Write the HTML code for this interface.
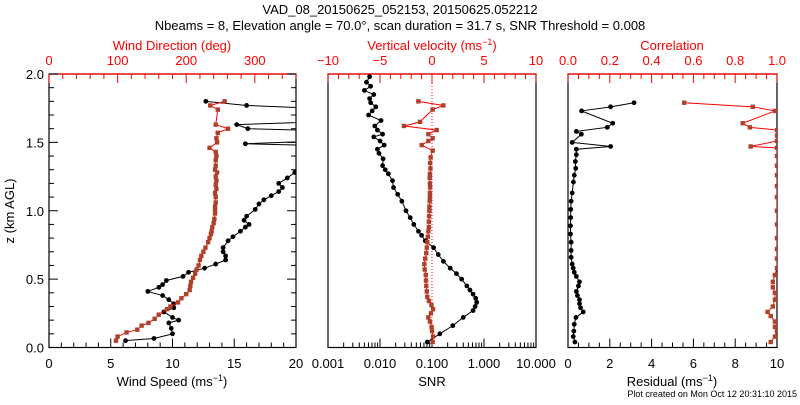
<!DOCTYPE html>
<html><head><meta charset="utf-8"><style>
body{margin:0;background:#fff;width:800px;height:400px;overflow:hidden}
svg text{font-family:"Liberation Sans",sans-serif}
</style></head><body>
<svg id="c" width="800" height="400" xmlns="http://www.w3.org/2000/svg">
<defs>
<clipPath id="cp1"><rect x="49" y="74" width="247" height="274"/></clipPath>
<clipPath id="cp2"><rect x="328" y="74" width="208" height="274"/></clipPath>
<clipPath id="cp3"><rect x="568" y="74" width="209" height="274"/></clipPath>
</defs>
<text x="400" y="14" font-size="13" text-anchor="middle">VAD_08_20150625_052153, 20150625.052212</text>
<text x="400" y="30" font-size="13" text-anchor="middle">Nbeams = 8, Elevation angle = 70.0°, scan duration = 31.7 s, SNR Threshold = 0.008</text>
<text x="172" y="50" font-size="13" fill="#f00" text-anchor="middle">Wind Direction (deg)</text>
<text x="432" y="50" font-size="13" fill="#f00" text-anchor="middle">Vertical velocity (ms<tspan dy="-5" font-size="9">−1</tspan><tspan dy="5">)</tspan></text>
<text x="672" y="50" font-size="13" fill="#f00" text-anchor="middle">Correlation</text>
<text x="172" y="386" font-size="13" text-anchor="middle">Wind Speed (ms<tspan dy="-5" font-size="9">−1</tspan><tspan dy="5">)</tspan></text>
<text x="432" y="386" font-size="13" text-anchor="middle">SNR</text>
<text x="672" y="386" font-size="13" text-anchor="middle">Residual (ms<tspan dy="-5" font-size="9">−1</tspan><tspan dy="5">)</tspan></text>
<text x="14" y="211" font-size="13" text-anchor="middle" transform="rotate(-90 14 211)">z (km AGL)</text>
<text x="797" y="397" font-size="9" text-anchor="end">Plot created on Mon Oct 12 20:31:10 2015</text>
</svg>
<script>
// Heights (km) and values for each series
const zSpeed=[0.05,0.066,0.10,0.14,0.18,0.20,0.22,0.26,0.29,0.32,0.35,0.38,0.41,0.44,0.46,0.49,0.52,0.55,0.58,0.61,0.64,0.67,0.70,0.73,0.78,0.81,0.85,0.88,0.90,0.93,0.96,1.01,1.05,1.08,1.11,1.14,1.17,1.20,1.24,1.28,1.32,1.40,1.47,1.49,1.52,1.58,1.60,1.63,1.66,1.74,1.77,1.80];
const speed=[6.2,8.5,10.0,9.9,9.7,10.5,10.0,9.3,10.1,10.1,9.7,9.2,8.0,8.9,9.2,9.5,10.85,11.3,12.6,13.5,14.3,14.3,14.1,14.1,14.5,14.9,15.5,15.9,16.2,15.8,16.0,16.7,17.0,17.4,18.0,18.6,18.9,18.6,19.3,19.9,21,23,25,15.9,25,24,16.1,15.2,25,24,16.0,12.7];
const zDir=[0.05,0.08,0.11,0.13,0.16,0.18,0.21,0.24,0.28,0.30,0.33,0.36,0.39,0.42,0.45,0.48,0.51,0.54,0.57,0.60,0.64,0.67,0.70,0.73,0.77,0.80,0.83,0.85,0.88,0.91,0.94,0.98,1.01,1.03,1.06,1.10,1.13,1.16,1.19,1.22,1.25,1.28,1.30,1.33,1.37,1.40,1.43,1.46,1.50,1.53,1.57,1.60,1.63,1.74,1.77,1.80];
const direction=[97.6,100,113,128.7,135,145,154,160,172,177,188,193,200,205,206,207,210,213,215,218,220,222,225,228,232,234,236,237,238,240,241,242,242,242,243,243,242,244,243,244,243,245,242,243,243,244,243,234,245,244,246,261,243,246,235,256];
const zSnr=[0.04,0.10,0.16,0.22,0.27,0.30,0.33,0.36,0.39,0.42,0.45,0.50,0.54,0.58,0.63,0.68,0.73,0.78,0.82,0.85,0.90,0.95,1.00,1.07,1.12,1.17,1.22,1.27,1.30,1.33,1.38,1.42,1.45,1.48,1.51,1.54,1.56,1.59,1.62,1.66,1.70,1.73,1.76,1.79,1.82,1.85,1.88,1.91,1.94,1.98];
const snrLog=[-1.09,-0.85,-0.60,-0.40,-0.21,-0.17,-0.14,-0.16,-0.21,-0.27,-0.33,-0.43,-0.53,-0.65,-0.78,-0.88,-0.97,-1.13,-1.2,-1.26,-1.35,-1.42,-1.5,-1.58,-1.66,-1.74,-1.76,-1.84,-1.9,-1.95,-1.94,-2.02,-2.05,-1.92,-2.0,-2.12,-1.95,-2.05,-2.1,-1.98,-2.22,-2.15,-2.08,-2.18,-2.2,-2.12,-2.3,-2.18,-2.26,-2.2];
const zVel=[0.04,0.08,0.12,0.15,0.19,0.22,0.25,0.28,0.31,0.34,0.37,0.41,0.45,0.49,0.53,0.57,0.61,0.65,0.69,0.73,0.77,0.81,0.85,0.88,0.92,0.96,1.00,1.03,1.07,1.10,1.13,1.17,1.20,1.24,1.27,1.31,1.35,1.39,1.44,1.48,1.51,1.53,1.56,1.59,1.62,1.65,1.74,1.77,1.80];
const velocity=[0.06,0.1,0.0,-0.04,-0.2,-0.35,-0.1,0.1,-0.05,-0.3,-0.45,-0.5,-0.55,-0.58,-0.6,-0.7,-0.74,-0.65,-0.55,-0.5,-0.45,-0.4,-0.35,-0.3,-0.3,-0.28,-0.25,-0.25,-0.22,-0.2,-0.2,-0.18,-0.2,-0.22,-0.2,-0.15,-0.18,-0.13,0.06,-0.99,-0.35,0.06,-0.35,0.45,-2.7,-1.15,0.06,1.09,-1.31];
const zRes=[0.04,0.08,0.12,0.17,0.22,0.26,0.29,0.32,0.35,0.38,0.41,0.45,0.48,0.52,0.55,0.58,0.61,0.66,0.71,0.77,0.83,0.89,0.95,1.01,1.07,1.13,1.21,1.26,1.31,1.36,1.41,1.45,1.47,1.50,1.56,1.58,1.61,1.64,1.73,1.76,1.79];
const residual=[0.33,0.25,0.28,0.3,0.38,0.73,0.6,0.55,0.55,0.45,0.4,0.5,0.55,0.4,0.3,0.25,0.2,0.15,0.15,0.15,0.12,0.12,0.13,0.13,0.15,0.2,0.26,0.3,0.37,0.35,0.4,0.4,2.04,0.2,0.64,0.4,1.88,2.14,0.65,2.04,3.16];
const zCor=[0.04,0.08,0.12,0.15,0.19,0.23,0.26,0.30,0.35,0.40,0.44,0.48,0.53,0.58,0.65,0.72,0.80,0.90,1.0,1.1,1.18,1.26,1.33,1.40,1.46,1.47,1.51,1.55,1.59,1.61,1.64,1.73,1.76,1.79];
const correlation=[0.97,0.99,1.0,0.99,0.99,0.97,0.955,0.98,0.99,0.99,0.98,0.98,0.99,1.0,1.0,1.0,1.0,1.0,1.0,1.0,1.0,1.0,1.0,1.0,1.0,0.874,1.0,1.0,1.0,0.87,0.836,0.99,0.884,0.556];
const zTicks=["0.0","0.5","1.0","1.5","2.0"];
const speedTicks=["0","5","10","15","20"];
const dirTicks=["0","100","200","300"];
const snrTicks=["0.001","0.010","0.100","1.000","10.000"];
const velTicks=["−10","−5","0","5","10"];
const resTicks=["0","2","4","6","8","10"];
const corTicks=["0.0","0.2","0.4","0.6","0.8","1.0"];

const NS="http://www.w3.org/2000/svg";
const svg=document.getElementById('c');
const Y0=347.5,Y1=74;
const yz=z=>Y0-(z/2)*(Y0-Y1);
function lin(d0,d1,r0,r1){return v=>r0+(v-d0)/(d1-d0)*(r1-r0);}
function el(t,a,p){const e=document.createElementNS(NS,t);for(const k in a)e.setAttribute(k,a[k]);(p||svg).appendChild(e);return e;}
const P=[{x0:49,x1:296},{x0:328,x1:536},{x0:568,x1:777}];
const xs=lin(0,20,49,296), xd=lin(0,360,49,296);
const xsnr=l=>328+(l+3)/4*208, xv=lin(-10,10,328,536);
const xr=lin(0,10,568,777), xc=lin(0,1,568,777);

P.forEach((p,i)=>{
 const r=el('rect',{x:p.x0,y:Y1,width:p.x1-p.x0,height:Y0-Y1,fill:'none',stroke:'#000','stroke-width':1.2});
 
 
 const t=el('line',{x1:p.x0,x2:p.x1,y1:Y1,y2:Y1,stroke:'#f00','stroke-width':1.2});
 
 
});
function tick(x,y,len,col,dir){el('line',{x1:x,x2:x,y1:y,y2:y+dir*len,stroke:col,'stroke-width':1});}
for(let k=0;k<=20;k++){const y=yz(k*0.1);const L=k%5==0?9:5;
 el('line',{x1:49,x2:49+L,y1:y,y2:y,stroke:'#000'});el('line',{x1:296,x2:296-L,y1:y,y2:y,stroke:'#000'});}
zTicks.forEach(t=>{const e=el('text',{x:44,y:yz(+t)+5,'font-size':13,'text-anchor':'end'});e.textContent=t;
 
 });
function labels(arr,fx,y,col,nm){arr.forEach(t=>{const v=+t.replace('−','-');const e=el('text',{x:fx(v),y:y,'font-size':13,'text-anchor':'middle',fill:col});e.textContent=t;
 
 });}
for(let v=0;v<=20;v++)tick(xs(v),Y0,v%5==0?9:5,'#000',-1);
labels(speedTicks,xs,368,'#000','speed-tick-label');
for(let v=0;v<=360;v+=20)tick(xd(v),Y1,v%100==0?9:5,'#f00',1);
labels(dirTicks,xd,65,'#f00','direction-tick-label');
for(let d=-3;d<1;d++)for(let m=1;m<10;m++)tick(xsnr(d+Math.log10(m)),Y0,m==1?9:5,'#000',-1);
tick(xsnr(1),Y0,9,'#000',-1);
snrTicks.forEach(t=>{const e=el('text',{x:xsnr(Math.log10(+t)),y:368,'font-size':13,'text-anchor':'middle'});e.textContent=t;
 
 });
for(let v=-10;v<=10;v++)tick(xv(v),Y1,v%5==0?9:5,'#f00',1);
labels(velTicks,xv,65,'#f00','velocity-tick-label');
for(let v=0;v<=10;v+=0.5)tick(xr(v),Y0,v%2==0?9:5,'#000',-1);
labels(resTicks,xr,368,'#000','residual-tick-label');
for(let v=0;v<=1.0001;v+=0.05)tick(xc(v),Y1,Math.abs(v*5-Math.round(v*5))<1e-6?9:5,'#f00',1);
labels(corTicks,xc,65,'#f00','correlation-tick-label');
const zl=el('line',{x1:xv(0),x2:xv(0),y1:Y1,y2:Y0,stroke:'#f00','stroke-dasharray':'1,2'});



function series(zs,vals,fx,clip,line,mark,sq,nm){
 const g=el('g',{'clip-path':'url(#'+clip+')'});
 
 
 const pts=zs.map((z,i)=>[fx(vals[i]),yz(z)]);
 el('polyline',{points:pts.map(p=>p.join(',')).join(' '),fill:'none',stroke:line,'stroke-width':1},g);
 pts.forEach(p=>{ if(sq) el('rect',{x:p[0]-2.2,y:p[1]-2.2,width:4.4,height:4.4,fill:mark},g);
   else el('circle',{cx:p[0],cy:p[1],r:2.4,fill:mark},g);});
}
series(zSpeed,speed,xs,'cp1','#000','#000',false,'wind-speed-series');
series(zDir,direction,xd,'cp1','#f00','#b0402a',true,'wind-direction-series');
series(zSnr,snrLog,xsnr,'cp2','#000','#000',false,'snr-series');
series(zVel,velocity,xv,'cp2','#f00','#b0402a',true,'vertical-velocity-series');
series(zRes,residual,xr,'cp3','#000','#000',false,'residual-series');
series(zCor,correlation,xc,'cp3','#f00','#b0402a',true,'correlation-series');
</script>
</body></html>
